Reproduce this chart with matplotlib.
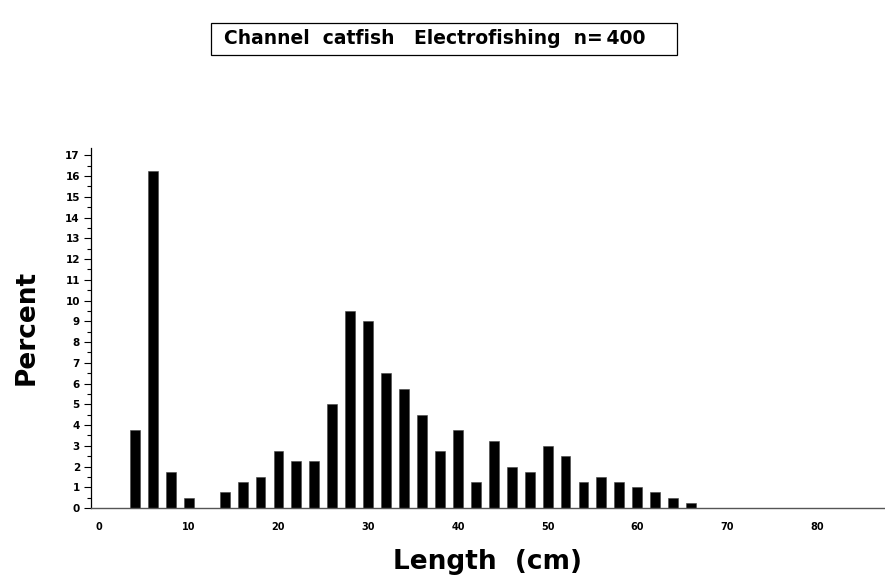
import matplotlib
matplotlib.use("Agg")
import matplotlib.pyplot as plt
from matplotlib.ticker import MultipleLocator
from matplotlib.patches import Rectangle

lengths = [4, 6, 8, 10, 14, 16, 18, 20, 22, 24, 26, 28, 30, 32, 34, 36, 38, 40,
           42, 44, 46, 48, 50, 52, 54, 56, 58, 60, 62, 64, 66]
percent = [3.75, 16.25, 1.75, 0.5, 0.75, 1.25, 1.5, 2.75, 2.25, 2.25, 5.0, 9.5, 9.0,
           6.5, 5.75, 4.5, 2.75, 3.75, 1.25, 3.25, 2.0, 1.75, 3.0, 2.5, 1.25, 1.5,
           1.25, 1.0, 0.75, 0.5, 0.25]
x_ticks = [0, 10, 20, 30, 40, 50, 60, 70, 80]
y_ticks = list(range(0, 18))
title = "Channel  catfish   Electrofishing  n=\u2009400"

plt.rcParams['font.family'] = ['DejaVu Sans']
plt.rcParams['font.weight'] = 'bold'

W, H = 885, 583
fig = plt.figure(figsize=(W / 100, H / 100), dpi=100)
ax = fig.add_axes([91 / W, 75 / H, 793 / W, 360 / H])

ax.bar(lengths, percent, width=1.1, color='black', edgecolor='#444444', linewidth=0.4)

ax.set_xlim(-0.9, 87.5)
ax.set_ylim(0, 17.35)
ax.set_xticks(x_ticks)
ax.set_yticks(y_ticks)
ax.yaxis.set_minor_locator(MultipleLocator(0.5))
ax.tick_params(axis='x', length=0, labelsize=7, pad=10)
ax.tick_params(axis='y', which='major', length=5, width=0.8, labelsize=7.5, pad=3)
ax.tick_params(axis='y', which='minor', length=3, width=0.8)
for lbl in ax.get_xticklabels() + ax.get_yticklabels():
    lbl.set_fontweight('bold')

for s in ['top', 'right']:
    ax.spines[s].set_visible(False)
ax.spines['left'].set_linewidth(0.9)
ax.spines['bottom'].set_color('#555555')
ax.spines['bottom'].set_linewidth(1.0)

ax.set_xlabel("Length  (cm)", fontsize=19, fontweight='bold', labelpad=12)
fig.text(27 / W, 1 - 327 / H, "Percent", rotation=90, fontsize=19,
         fontweight='bold', ha='center', va='center')

fig.patches.append(Rectangle((211 / W, 1 - 55 / H), 466 / W, 32 / H,
                             transform=fig.transFigure, facecolor='white',
                             edgecolor='black', linewidth=0.9))
fig.text(435 / W, 1 - 39 / H, title, fontsize=13.5, fontweight='bold',
         ha='center', va='center')

fig.savefig("out.png", dpi=100)
